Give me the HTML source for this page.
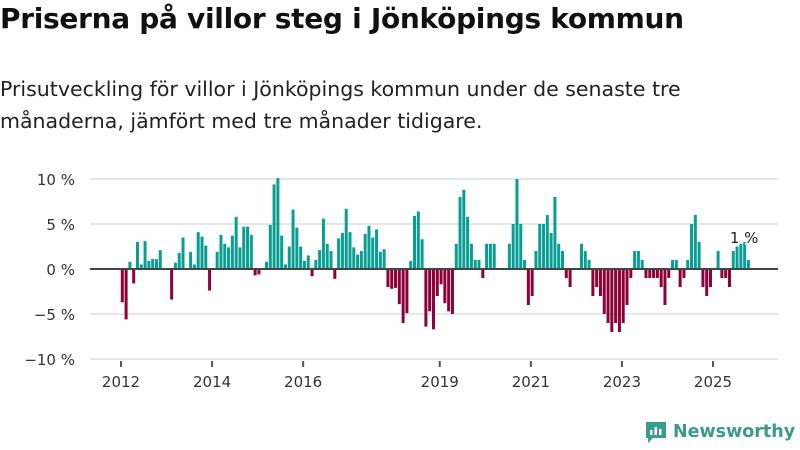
<!DOCTYPE html>
<html><head><meta charset="utf-8"><style>
body{margin:0;width:800px;height:450px;background:#fff;font-family:"DejaVu Sans","Liberation Sans",sans-serif;overflow:hidden;position:relative}
h1{position:absolute;left:0;top:2px;margin:0;font-size:28px;font-weight:bold;color:#111;letter-spacing:-0.3px;white-space:nowrap}
p{position:absolute;left:0;top:73px;margin:0;font-size:20.5px;line-height:32px;color:#222;width:740px}
</style></head><body>
<h1>Priserna på villor steg i Jönköpings kommun</h1>
<p>Prisutveckling för villor i Jönköpings kommun under de senaste tre månaderna, jämfört med tre månader tidigare.</p>
<svg id="c" width="800" height="450" style="position:absolute;left:0;top:0"></svg>
<div style="position:absolute;left:644px;top:420px;display:flex;align-items:center;gap:5px;color:#3a9a8f;font-size:17.5px;font-weight:bold">
<svg width="24" height="24"><path d="M2 2h20v16H9l-5 5v-5H2z" fill="#3a9a8f"/><rect x="6" y="10" width="2.5" height="5" fill="#fff"/><rect x="10.5" y="7" width="2.5" height="8" fill="#fff"/><rect x="15" y="9" width="2.5" height="6" fill="#fff"/></svg>Newsworthy</div>
<script>
const values=[-3.7,-5.6,0.8,-1.6,3.0,0.5,3.1,0.9,1.1,1.1,2.1,0,0,-3.4,0.7,1.8,3.5,0,1.9,0.5,4.1,3.6,2.6,-2.4,0,1.9,3.8,2.8,2.4,3.7,5.8,2.4,4.7,4.7,3.8,-0.7,-0.6,0,0.8,4.9,9.4,10.1,3.7,0.5,2.5,6.6,4.6,2.5,0.9,1.5,-0.8,1.0,2.1,5.6,2.8,2.0,-1.1,3.4,4.0,6.7,4.1,2.4,1.6,2.0,3.9,4.8,3.5,4.4,1.9,2.2,-2.0,-2.2,-2.1,-3.9,-6.0,-4.9,0.9,5.9,6.4,3.3,-6.4,-4.7,-6.7,-3.0,-1.7,-3.8,-4.7,-5.0,2.8,8.0,8.8,5.8,2.8,1.0,1.0,-1.0,2.8,2.8,2.8,0,0,0,2.8,5.0,10.0,5.0,1.0,-4.0,-3.0,2.0,5.0,5.0,6.0,4.0,8.0,2.8,2.0,-1.0,-2.0,0,0,2.8,2.0,1.0,-3.0,-2.0,-3.0,-5.0,-6.0,-7.0,-6.0,-7.0,-6.0,-4.0,-1.0,2.0,2.0,1.0,-1.0,-1.0,-1.0,-1.0,-2.0,-4.0,-1.0,1.0,1.0,-2.0,-1.0,1.0,5.0,6.0,3.0,-2.0,-3.0,-2.0,0,2.0,-1.0,-1.0,-2.0,2.0,2.5,2.8,3.0,1.0];
const yTicks=[10,5,0,-5,-10];
const yLabels=["10 %","5 %","0 %","\u22125 %","\u221210 %"];
const xYears=[2012,2014,2016,2019,2021,2023,2025];
const startYear=2012;
const lastLabel="1 %";
const svg=document.getElementById('c');const NS='http://www.w3.org/2000/svg';
const y=v=>269-v*9;
const x=m=>121+m*(592/156);
function mk(t,a,txt){const e=document.createElementNS(NS,t);for(const k in a)e.setAttribute(k,a[k]);if(txt!=null)e.textContent=txt;svg.appendChild(e);return e;}
yTicks.forEach((t,i)=>{
 const g=mk('line',{x1:90,x2:778,y1:y(t),y2:y(t),stroke:'#ddd','stroke-width':1.5});
 
 
 const l=mk('text',{x:75,y:y(t)+6,'text-anchor':'end','font-size':15,fill:'#333'},yLabels[i]);
 
 
});
values.forEach((v,i)=>{
 const r=mk('rect',{x:x(i)-0.2,width:3,y:Math.min(y(v),y(0)),height:Math.abs(y(v)-y(0)),fill:v>=0?'#0a9e93':'#8e0038'});
 
 
});
const z=mk('line',{x1:90,x2:778,y1:y(0),y2:y(0),stroke:'#444','stroke-width':2});


xYears.forEach(yr=>{
 const px=x((yr-startYear)*12);
 const t=mk('line',{x1:px,x2:px,y1:361,y2:367,stroke:'#555','stroke-width':2});
 
 
 const l=mk('text',{x:px,y:387,'text-anchor':'middle','font-size':15,fill:'#333'},yr);
 
 
});
const li=values.length-1;
const ll=mk('text',{x:x(li)-3,y:y(values[li])-17,'text-anchor':'middle','font-size':15,fill:'#222',stroke:'#fff','stroke-width':3,'paint-order':'stroke'},lastLabel);


</script>
</body></html>
